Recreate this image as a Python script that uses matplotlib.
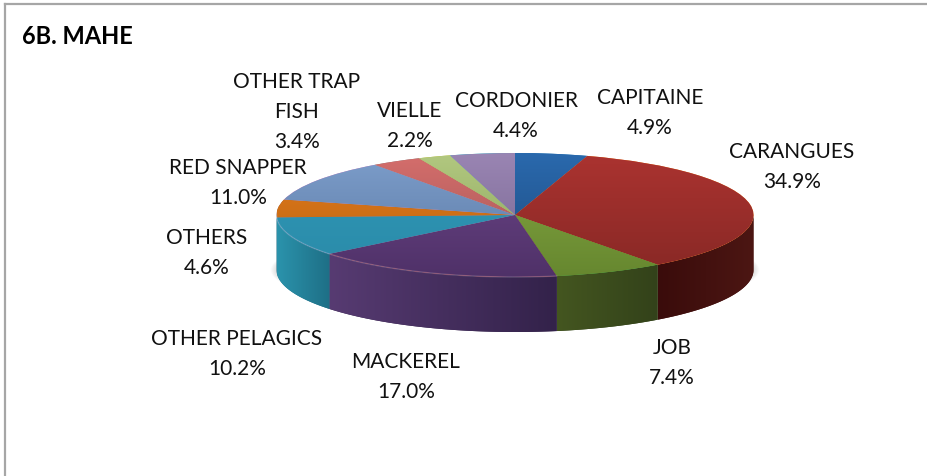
#!/usr/bin/python

import numpy as np
import matplotlib
matplotlib.use("Agg")
import matplotlib.pyplot as plt
from matplotlib.colors import LinearSegmentedColormap
from matplotlib.lines import Line2D
from matplotlib.patches import Ellipse

plt.rcParams['font.family'] = ['Lato', 'DejaVu Sans']

names = ["CAPITAINE", "CARANGUES", "JOB", "MACKEREL", "OTHER PELAGICS", "OTHERS",
         "RED SNAPPER", "OTHER TRAP\nFISH", "VIELLE", "CORDONIER"]
values = [4.9, 34.9, 7.4, 17.0, 10.2, 4.6, 11.0, 3.4, 2.2, 4.4]

# top face colours, upper end and lower end of the pie
top_hi = ["#2a69ad", "#ab3330", "#86a843", "#6d4689", "#3099b8", "#e67c1e",
          "#7d9ecb", "#d56e6c", "#b2c880", "#9a85b3"]
top_lo = ["#1d4a7e", "#872825", "#66872f", "#4f3168", "#2a8aa8", "#b5620f",
          "#5a78a3", "#a05555", "#88a35a", "#75658f"]
# side wall colours, left end and right end of each slice
side_l = ["#1d4a7e", "#3a0c0b", "#445620", "#573b72", "#2b93ac", "#2b93ac",
          "#5a78a3", "#a05555", "#88a35a", "#75658f"]
side_r = ["#1d4a7e", "#4c1613", "#33421a", "#33224a", "#1e6f86", "#2b93ac",
          "#5a78a3", "#a05555", "#88a35a", "#75658f"]

# label centres in pixels of the picture
label_x = [650, 792, 672, 406, 237, 207, 238, 297, 410, 516]
label_y = [113, 167, 363, 377, 354, 253, 183, 112, 126, 116]

W, H = 927, 477
CX, CY = 515, 216
RX, RY = 238.5, 62.0
DEPTH = 55.0 / RY


def px(x, y):
    return (x - CX) / RX, (CY - y) / RY


def side_wall(ax, start, end, left, right):
    # start and end are clock angles from the top, only the front half shows
    a0 = max(start, 90)
    a1 = min(end, 270)
    if a1 <= a0:
        return
    t = np.radians(np.linspace(a0, a1, 80))
    xs = np.sin(t)
    ys = np.cos(t)
    poly = ax.fill(np.concatenate([xs, xs[::-1]]),
                   np.concatenate([ys, ys[::-1] - DEPTH]),
                   color=right, lw=0, zorder=2)[0]
    cm = LinearSegmentedColormap.from_list("w", [left, right])
    grad = np.linspace(0, 1, 256).reshape(1, -1)
    im = ax.imshow(grad, extent=(xs.min(), xs.max(), -1 - DEPTH, 1), aspect="auto",
                   cmap=cm, zorder=2)
    im.set_clip_path(poly)


def build_graph():
    fig = plt.figure(figsize=(W / 100, H / 100), dpi=100)
    ax = fig.add_axes([0, 0, 1, 1])

    wedges, _ = ax.pie(values, startangle=90, counterclock=False, radius=1)
    ax.set_aspect("auto")
    ax.axis("off")

    # faint shadow sticking out at both sides
    for k in range(6):
        ax.add_patch(Ellipse((0, -DEPTH), 2 * (1 + 0.004 * (k + 1)), 1.4,
                             color="#808080", alpha=0.04, lw=0, zorder=1))

    total = sum(values)
    cum = np.concatenate([[0], np.cumsum(values)]) / total * 360
    grad = np.linspace(0, 1, 256).reshape(-1, 1)
    for i, w in enumerate(wedges):
        w.set_zorder(3)
        cm = LinearSegmentedColormap.from_list("s", [top_hi[i], top_lo[i]])
        im = ax.imshow(grad, extent=(-1, 1, -1, 1), aspect="auto", cmap=cm, zorder=4)
        im.set_clip_path(w)
        # the last sliver of the front half stays in the pelagics colour
        end = 270 if i == 4 else cum[i + 1]
        if i != 5:
            side_wall(ax, cum[i], end, side_l[i], side_r[i])

    # light rim along the front edge
    t = np.radians(np.linspace(cum[3], 270, 120))
    ax.plot(np.sin(t), np.cos(t), color="white", alpha=0.18, lw=1, zorder=5)

    ax.set_xlim(-CX / RX, (W - CX) / RX)
    ax.set_ylim((CY - H) / RY, CY / RY)

    for i, name in enumerate(names):
        x, y = px(label_x[i], label_y[i])
        ax.text(x, y, "%s\n%.1f%%" % (name, values[i]), ha="center", va="center",
                fontsize=15, linespacing=1.62, color="#111111", zorder=6)

    x, y = px(22, 36)
    ax.text(x, y, "6B. MAHE", ha="left", va="center", fontsize=17, fontweight="bold",
            color="black", zorder=6)

    # chart frame, cut by the crop on the other sides
    fig.add_artist(Line2D([4.5 / W, 4.5 / W], [0, 1 - 5 / H], color="#a6a6a6", lw=1.6))
    fig.add_artist(Line2D([4.5 / W, 1], [1 - 5 / H, 1 - 5 / H], color="#a6a6a6", lw=1.6))

    fig.savefig("out.png", dpi=100)


if __name__ == "__main__":
    build_graph()
